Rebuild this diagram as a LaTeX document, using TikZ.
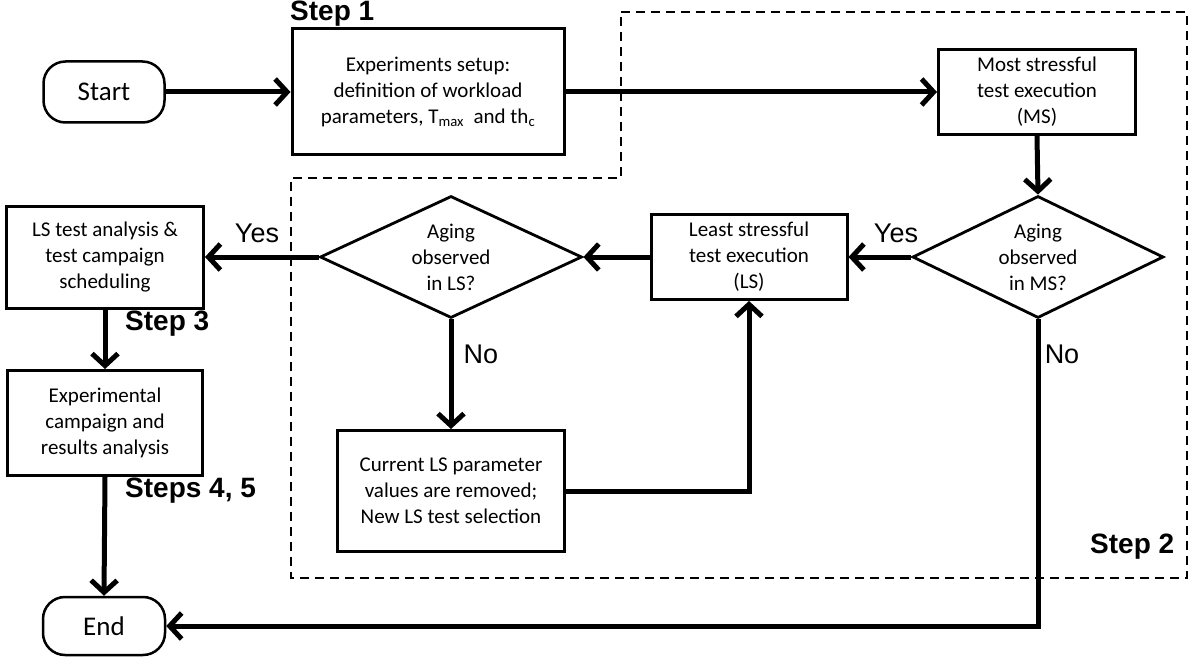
\documentclass[tikz,border=0pt]{standalone}
\usepackage{fontspec}
\setmainfont{Carlito}
\newfontfamily\arialf{Liberation Sans}
\usetikzlibrary{arrows.meta,shapes.geometric}
\begin{document}
\begin{tikzpicture}[x=1pt,y=-1pt,
  box/.style={draw,line width=3pt,align=center,inner sep=0pt,font=\fontsize{21}{26}\selectfont},
  term/.style={draw,line width=2.5pt,rounded corners=22pt,inner sep=0pt,font=\fontsize{27}{30}\selectfont},
  dec/.style={draw,diamond,line width=2.8pt,align=center,inner sep=0pt,font=\fontsize{21}{26}\selectfont},
  conn/.style={line width=5pt,-{Straight Barb[length=12pt,width=26pt]}},
  lab/.style={font=\arialf\fontsize{27}{30}\selectfont,inner sep=0pt},
  steplab/.style={font=\arialf\bfseries\fontsize{28}{30}\selectfont,inner sep=0pt,anchor=base west},
  region/.style={draw,line width=2.3pt,dash pattern=on 9pt off 6pt}
]
\useasboundingbox (0,0) rectangle (1194,666);

% Step 2 region
\draw[region] (621,12) -- (1187,12) -- (1187,578) -- (291,578) -- (291,178) -- (621,178) -- cycle;

% nodes
\node[term,minimum width=121pt,minimum height=61pt] (start) at (104,92) {Start};
\node[box,minimum width=272pt,minimum height=126pt] (s1) at (428,92)
  {Experiments setup:\\definition of workload\\parameters, T\textsubscript{max}\ \ and th\textsubscript{c}};
\node[box,minimum width=197pt,minimum height=85pt] (ms) at (1037,92) {Most stressful\\test execution\\(MS)};
\node[dec,aspect=2.06,minimum width=251pt,minimum height=122pt] (dms) at (1038,257) {Aging\\observed\\in MS?};
\node[box,minimum width=196pt,minimum height=85pt] (ls) at (749,257) {Least stressful\\test execution\\(LS)};
\node[dec,aspect=2.15,minimum width=262pt,minimum height=122pt] (dls) at (451,257) {Aging\\observed\\in LS?};
\node[box,minimum width=227pt,minimum height=121pt] (cur) at (451,491) {Current LS parameter\\values are removed;\\New LS test selection};
\node[box,minimum width=197pt,minimum height=102pt] (lsa) at (105,257) {LS test analysis \&\\test campaign\\scheduling};
\node[box,minimum width=195pt,minimum height=105pt] (exp) at (105,423) {Experimental\\campaign and\\results analysis};
\node[term,minimum width=122pt,minimum height=58pt] (end) at (104,626) {End};

% labels
\node[steplab] (st1) at (290,21) {Step 1};
\node[steplab] (st2) at (1090,553) {Step 2};
\node[steplab] (st3) at (125,330) {Step 3};
\node[steplab] (st45) at (125,497) {Steps 4, 5};
\node[lab] (yes1) at (896,233) {Yes};
\node[lab] (yes2) at (257,233) {Yes};
\node[lab] (no1) at (481,354) {No};
\node[lab] (no2) at (1062,354) {No};

% connectors
\draw[conn] (start.east) -- (s1.west);
\draw[conn] (s1.east) -- (ms.west);
\draw[conn] (ms.south) -- (dms.north);
\draw[conn] (dms.west) -- (ls.east);
\draw[conn] (ls.west) -- (dls.east);
\draw[conn] (dls.west) -- (lsa.east);
\draw[conn] (dls.south) -- (cur.north);
\draw[conn] (cur.east) -| (ls.south);
\draw[conn] (lsa.south) -- (exp.north);
\draw[conn] (exp.south) -- (end.north);
\draw[conn] (dms.south) |- (end.east);
\end{tikzpicture}
\end{document}
